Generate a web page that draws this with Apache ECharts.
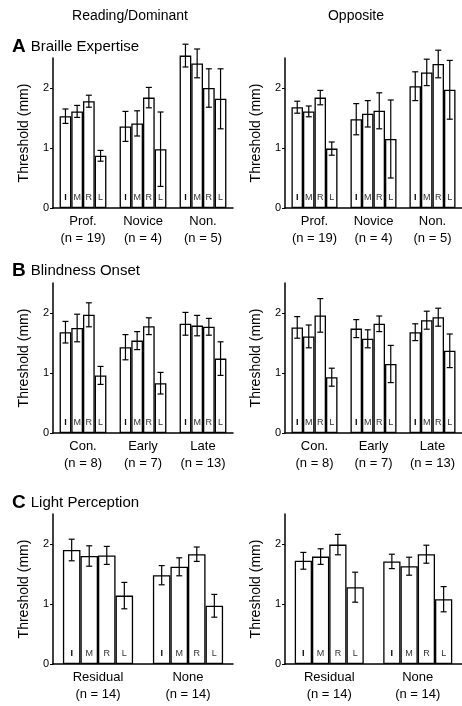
<!DOCTYPE html>
<html>
<head>
<meta charset="utf-8">
<script src="https://cdn.jsdelivr.net/npm/echarts@6/dist/echarts.min.js"></script>
<style>
  html, body { margin: 0; padding: 0; background: #fff; }
  #main { width: 462px; height: 706px; }
</style>
</head>
<body>
<div id="main"></div>
<script>
// fingers inside each group
const fingers = ['I', 'M', 'R', 'L'];

// categories
const catsA = ['Prof.\n(n = 19)', 'Novice\n(n = 4)', 'Non.\n(n = 5)'];
const catsB = ['Con.\n(n = 8)', 'Early\n(n = 7)', 'Late\n(n = 13)'];
const catsC = ['Residual\n(n = 14)', 'None\n(n = 14)'];

// A - Braille expertise (rows = groups, cols = I M R L)
const aDomMean = [[1.53, 1.61, 1.78, 0.87], [1.36, 1.41, 1.84, 0.98], [2.54, 2.41, 2.00, 1.82]];
const aDomErr  = [[0.12, 0.10, 0.10, 0.09], [0.25, 0.21, 0.17, 0.62], [0.19, 0.24, 0.32, 0.50]];
const aOppMean = [[1.68, 1.61, 1.84, 0.99], [1.48, 1.57, 1.62, 1.15], [2.03, 2.26, 2.40, 1.97]];
const aOppErr  = [[0.10, 0.09, 0.12, 0.11], [0.26, 0.22, 0.30, 0.65], [0.24, 0.22, 0.23, 0.49]];

// B - blindness onset
const bDomMean = [[1.68, 1.75, 1.97, 0.96], [1.43, 1.54, 1.78, 0.83], [1.82, 1.79, 1.77, 1.24]];
const bDomErr  = [[0.18, 0.23, 0.20, 0.15], [0.21, 0.15, 0.14, 0.18], [0.19, 0.17, 0.14, 0.28]];
const bOppMean = [[1.76, 1.61, 1.96, 0.93], [1.74, 1.57, 1.82, 1.15], [1.68, 1.88, 1.93, 1.37]];
const bOppErr  = [[0.18, 0.19, 0.28, 0.15], [0.15, 0.15, 0.13, 0.31], [0.14, 0.15, 0.15, 0.28]];

// C - light perception
const cDomMean = [[1.90, 1.80, 1.81, 1.14], [1.48, 1.62, 1.83, 0.97]];
const cDomErr  = [[0.18, 0.17, 0.15, 0.22], [0.16, 0.15, 0.12, 0.19]];
const cOppMean = [[1.72, 1.79, 1.99, 1.28], [1.71, 1.63, 1.83, 1.08]];
const cOppErr  = [[0.14, 0.13, 0.17, 0.25], [0.12, 0.15, 0.15, 0.21]];

const yTicks = [0, 1, 2];

const panels = [
  { cats: catsA, mean: aDomMean, err: aDomErr, left: 53,  top: 58 },
  { cats: catsA, mean: aOppMean, err: aOppErr, left: 285, top: 58 },
  { cats: catsB, mean: bDomMean, err: bDomErr, left: 53,  top: 283 },
  { cats: catsB, mean: bOppMean, err: bOppErr, left: 285, top: 283 },
  { cats: catsC, mean: cDomMean, err: cDomErr, left: 53,  top: 514 },
  { cats: catsC, mean: cOppMean, err: cOppErr, left: 285, top: 514 }
];

const FONT = 'Liberation Sans';
const GAP = 0.22;

const chart = echarts.init(document.getElementById('main'), null, { renderer: 'canvas' });

const grid = [], xAxis = [], yAxis = [], series = [];

panels.forEach((p, i) => {
  grid.push({ left: p.left, top: p.top, width: 180, height: 150 });
  xAxis.push({
    type: 'category',
    gridIndex: i,
    data: p.cats,
    axisLine: { lineStyle: { color: '#000', width: 1.5 } },
    axisTick: { show: false },
    axisLabel: { color: '#000', fontFamily: FONT, fontSize: 13, lineHeight: 17, margin: 5 }
  });
  yAxis.push({
    type: 'value',
    gridIndex: i,
    min: 0,
    max: 2.5,
    interval: 1,
    name: 'Threshold (mm)',
    nameLocation: 'middle',
    nameGap: 22,
    nameTextStyle: { color: '#000', fontFamily: FONT, fontSize: 14 },
    axisLine: { show: true, lineStyle: { color: '#000', width: 1.5 } },
    axisTick: { show: true, length: 3, customValues: yTicks, lineStyle: { color: '#000' } },
    axisLabel: { color: '#000', fontFamily: FONT, fontSize: 11, margin: 4, customValues: yTicks },
    splitLine: { show: false }
  });

  fingers.forEach((f, k) => {
    series.push({
      type: 'bar',
      name: f,
      xAxisIndex: i,
      yAxisIndex: i,
      data: p.mean.map(g => g[k]),
      barGap: '0%',
      barCategoryGap: (GAP * 100) + '%',
      clip: false,
      itemStyle: { color: '#fff', borderColor: '#000', borderWidth: 1.3 },
      label: {
        show: true,
        position: 'insideBottom',
        distance: 6,
        formatter: f,
        color: f === 'I' ? '#000' : '#333',
        fontWeight: f === 'I' ? 'bold' : 'normal',
        fontFamily: FONT,
        fontSize: 9
      },
      silent: true
    });
  });

  // error bars, placed on the bar centres
  const errData = [];
  p.mean.forEach((g, c) => g.forEach((v, k) => errData.push([c, v, p.err[c][k], k])));
  series.push({
    type: 'custom',
    xAxisIndex: i,
    yAxisIndex: i,
    z: 5,
    clip: false,
    silent: true,
    encode: { x: 0, y: 1 },
    data: errData,
    renderItem: function (params, api) {
      const c = api.value(0), m = api.value(1), e = api.value(2), k = api.value(3);
      const band = api.size([1, 0])[0];
      const bw = band * (1 - GAP) / 4;
      const x = api.coord([c, m])[0] + (k - 1.5) * bw;
      const yTop = api.coord([c, m + e])[1];
      const yBot = api.coord([c, m - e])[1];
      const cap = 3;
      const st = { stroke: '#000', lineWidth: 1.2 };
      return {
        type: 'group',
        children: [
          { type: 'line', shape: { x1: x, y1: yTop, x2: x, y2: yBot }, style: st },
          { type: 'line', shape: { x1: x - cap, y1: yTop, x2: x + cap, y2: yTop }, style: st },
          { type: 'line', shape: { x1: x - cap, y1: yBot, x2: x + cap, y2: yBot }, style: st }
        ]
      };
    }
  });
});

const titleRich = {
  b: { fontFamily: FONT, fontSize: 19, fontWeight: 'bold', color: '#000' },
  t: { fontFamily: FONT, fontSize: 15, fontWeight: 'normal', color: '#000', padding: [0, 0, 0, 5] }
};

const option = {
  animation: false,
  backgroundColor: '#fff',
  title: [
    { text: 'Reading/Dominant', left: 125, top: 4, textAlign: 'center',
      textStyle: { fontFamily: FONT, fontSize: 14, fontWeight: 'normal', color: '#000' } },
    { text: 'Opposite', left: 351, top: 4, textAlign: 'center',
      textStyle: { fontFamily: FONT, fontSize: 14, fontWeight: 'normal', color: '#000' } },
    { text: '{b|A}{t|Braille Expertise}', left: 7, top: 32, textStyle: { rich: titleRich } },
    { text: '{b|B}{t|Blindness Onset}', left: 7, top: 256, textStyle: { rich: titleRich } },
    { text: '{b|C}{t|Light Perception}', left: 7, top: 488, textStyle: { rich: titleRich } }
  ],
  grid: grid,
  xAxis: xAxis,
  yAxis: yAxis,
  series: series
};

chart.setOption(option);
</script>
</body>
</html>
